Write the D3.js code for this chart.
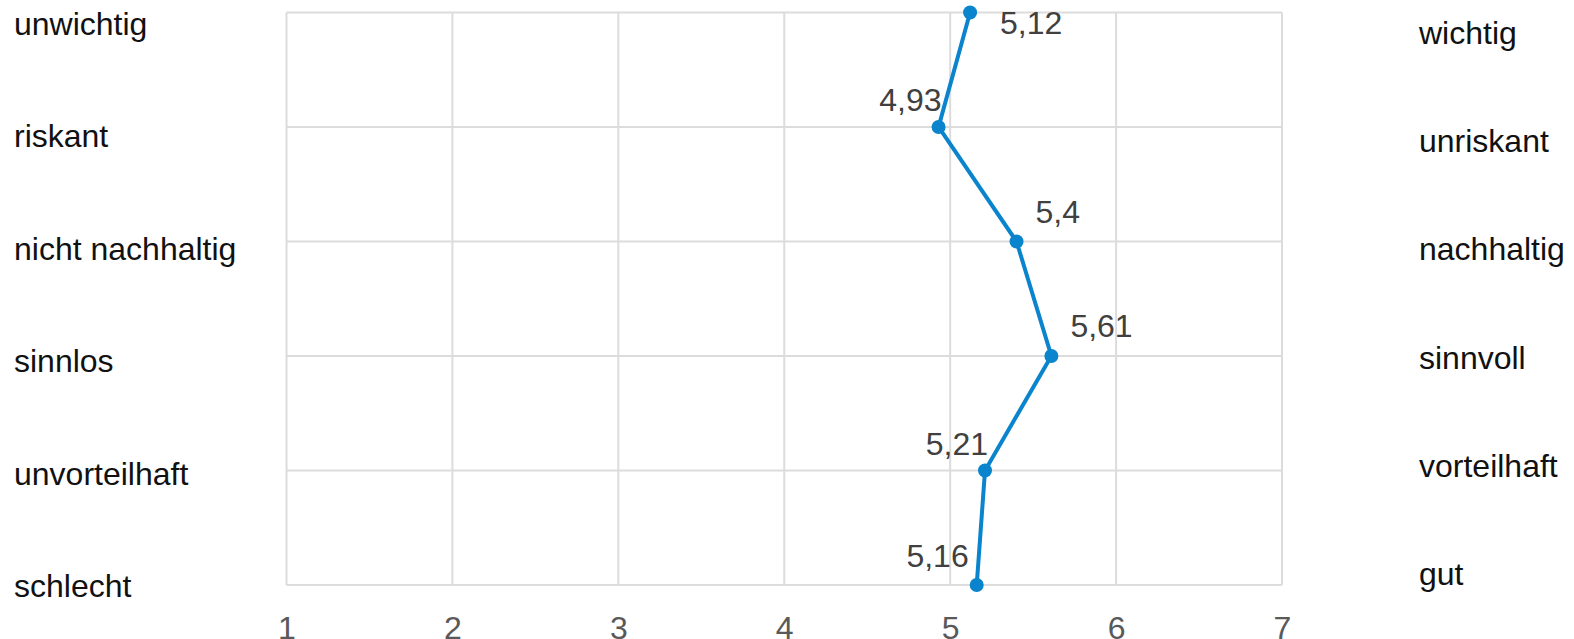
<!DOCTYPE html>
<html lang="de">
<head>
  <meta charset="UTF-8">
  <title>Semantisches Differential</title>
  <style>
    html, body { margin: 0; background: #fff; overflow: hidden; }
    svg { display: block; }
    svg text { font-family: "Liberation Sans", Arial, sans-serif; font-size: 32px; }
    .grid line { stroke: #dcdcdc; stroke-width: 2px; }
    .line { fill: none; stroke: #0a84cc; stroke-width: 4px; }
    .dot { fill: #0a84cc; }
    .pole { fill: #111; }
    .value { fill: #404040; }
    .tick text { fill: #595959; }
  </style>
</head>
<body>
  <script src="https://cdn.jsdelivr.net/npm/d3@7/dist/d3.min.js"></script>
  <script>
    // Datenwerte
    const leftPoles = ['unwichtig', 'riskant', 'nicht nachhaltig', 'sinnlos', 'unvorteilhaft', 'schlecht'];
    const rightPoles = ['wichtig', 'unriskant', 'nachhaltig', 'sinnvoll', 'vorteilhaft', 'gut'];
    const values = [5.12, 4.93, 5.4, 5.61, 5.21, 5.16];
    const scaleTicks = [1, 2, 3, 4, 5, 6, 7];
    const labelPlace = ['below-right', 'above-left', 'above-right', 'above-right', 'above-left', 'above-left-far'];

    const width = 1574, height = 639;
    const plot = { left: 286.5, right: 1282, top: 12.5, bottom: 585 };

    const svg = d3.select('body').append('svg')
      .attr('width', width).attr('height', height);

    const x = d3.scaleLinear().domain([1, 7]).range([plot.left, plot.right]);
    const y = d3.scalePoint().domain(d3.range(values.length)).range([plot.top, plot.bottom]);
    // Polbeschriftungen sind etwas anders verteilt als die Rasterzeilen
    const yLeft = d3.scalePoint().domain(d3.range(leftPoles.length)).range([35, 597]);
    const yRight = d3.scalePoint().domain(d3.range(rightPoles.length)).range([44, 585]);

    // Raster
    const grid = svg.append('g').attr('class', 'grid');
    grid.selectAll('line.v').data(scaleTicks).enter().append('line')
      .attr('x1', d => x(d)).attr('x2', d => x(d))
      .attr('y1', plot.top).attr('y2', plot.bottom);
    grid.selectAll('line.h').data(d3.range(values.length)).enter().append('line')
      .attr('x1', plot.left).attr('x2', plot.right)
      .attr('y1', d => y(d)).attr('y2', d => y(d));

    // x-Achse
    const axis = d3.axisBottom(x).tickValues(scaleTicks).tickSize(0).tickPadding(0).tickFormat(d3.format('d'));
    svg.append('g')
      .attr('transform', `translate(0,${plot.bottom})`)
      .call(axis)
      .call(g => g.select('.domain').remove())
      .selectAll('text').attr('dy', null).attr('y', 54);

    // Pole
    svg.selectAll('text.left').data(leftPoles).enter().append('text')
      .attr('class', 'pole left').attr('x', 14).attr('y', (d, i) => yLeft(i)).text(d => d);
    svg.selectAll('text.right').data(rightPoles).enter().append('text')
      .attr('class', 'pole right').attr('x', 1419).attr('y', (d, i) => yRight(i)).text(d => d);

    // Linie und Punkte
    const line = d3.line().x(d => x(d)).y((d, i) => y(i));
    svg.append('path').datum(values).attr('class', 'line').attr('d', line);
    svg.selectAll('circle').data(values).enter().append('circle')
      .attr('class', 'dot').attr('cx', d => x(d)).attr('cy', (d, i) => y(i)).attr('r', 7);

    // Wertebeschriftung
    const fmt = v => String(v).replace('.', ',');
    const offset = {
      'below-right': { dx: 30, dy: 21, anchor: 'start' },
      'above-right': { dx: 19, dy: -19, anchor: 'start' },
      'above-left': { dx: 3, dy: -16, anchor: 'end' },
      'above-left-far': { dx: -8, dy: -18, anchor: 'end' }
    };
    svg.selectAll('text.value').data(values).enter().append('text')
      .attr('class', 'value')
      .attr('text-anchor', (d, i) => offset[labelPlace[i]].anchor)
      .attr('x', (d, i) => x(d) + offset[labelPlace[i]].dx)
      .attr('y', (d, i) => y(i) + offset[labelPlace[i]].dy)
      .text(d => fmt(d));
  </script>
</body>
</html>
